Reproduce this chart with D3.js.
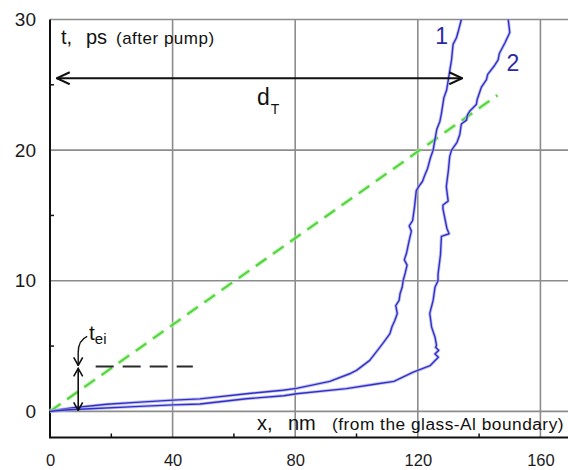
<!DOCTYPE html>
<html>
<head>
<meta charset="utf-8">
<script src="https://cdn.jsdelivr.net/npm/d3@7"></script>
<style>
  html, body { margin: 0; padding: 0; background: #fff; }
  svg { display: block; font-family: "Liberation Sans", Arial, sans-serif; }
</style>
</head>
<body>
<svg id="chart" width="568" height="470"></svg>
<script>
// ---------------- data ----------------
const xTicks = [0, 40, 80, 120, 160];
const yTicks = [0, 10, 20, 30];
const xMinorTicks = [20, 60, 100, 140];
const yMinorTicks = [5, 15, 25];

// curve 1: x (nm), t (ps)
const curve1X = [0, 3, 7.6, 18.5, 29.3, 40.2, 48.9, 64.1, 76, 80.4, 91.3, 98, 100, 104.3, 107.6, 109.2, 110.9, 111.6, 112.5, 113.3, 112.8, 113.9, 114.2, 114.9, 115.2, 115.9, 116.5, 115.6, 116.3, 117.1, 117.9, 117.2, 118.3, 118.9, 119.5, 120.3, 121.5, 122.3, 123.2, 124.1, 125, 125.6, 126.2, 127.2, 127.7, 128.5, 129.4, 129.9, 130.5, 131, 131.5, 132.6, 133.1, 134.2];
const curve1T = [0, 0.12, 0.28, 0.54, 0.71, 0.86, 0.96, 1.35, 1.62, 1.76, 2.3, 2.9, 3.14, 3.9, 4.9, 5.4, 5.95, 6.5, 6.96, 7.5, 8.1, 8.5, 9.0, 9.5, 10.0, 10.6, 11.2, 11.6, 12.1, 13.0, 13.8, 14.2, 14.6, 15.6, 16.9, 17.2, 17.6, 18.1, 18.6, 19.4, 20.0, 20.8, 21.6, 22.2, 22.8, 24.0, 24.6, 25.3, 26.2, 26.9, 28.1, 28.6, 29.0, 30];

// curve 2: x (nm), t (ps)
const curve2X = [0, 5, 13, 29.3, 40.2, 48.9, 64.1, 76.3, 80.4, 96.7, 106.5, 112.2, 118.5, 124, 126.7, 125.6, 126.8, 125.8, 126.1, 125.6, 124.5, 123.9, 125, 125.6, 126.6, 126.6, 127.4, 127.7, 130.2, 129.5, 128.2, 128.2, 129.9, 129.3, 130, 130.4, 131, 132.8, 133.7, 134.2, 135.9, 136.2, 137, 139.1, 139.4, 140.7, 142.4, 142.8, 145.1, 146.2, 146.6, 148.4, 150, 149.5];
const curve2T = [0, 0.1, 0.2, 0.38, 0.5, 0.56, 0.97, 1.2, 1.35, 1.74, 2.1, 2.3, 3.0, 3.5, 4.15, 4.4, 4.67, 4.9, 5.05, 5.7, 6.45, 7.5, 8.5, 9.5, 10.0, 10.5, 12.0, 13.4, 13.6, 14.0, 15.5, 15.8, 16.1, 17.2, 18.5, 19.5, 20.0, 20.6, 21.2, 22.0, 22.3, 22.7, 23.0, 23.5, 23.9, 24.8, 25.4, 25.8, 26.5, 26.9, 27.4, 28.2, 29.0, 30];

// green dashed guide line (x nm, t ps)
const guideX = [0, 146];
const guideT = [0, 24.2];

// annotations
const dT = { x0: 2.2, x1: 134.5, t: 25.5 };
const tei = { x: 9.2, t: 3.44, dashX0: 14.9, dashX1: 46.6 };

// ---------------- layout ----------------
const svg = d3.select("#chart");
const x = d3.scaleLinear().domain([0, 169]).range([50, 568]);
const y = d3.scaleLinear().domain([-2, 30]).range([437.5, 19.5]);

svg.append("rect").attr("width", 568).attr("height", 470).attr("fill", "#fff");

const defs = svg.append("defs");
function chevron(id, len, half, w) {
  defs.append("marker")
    .attr("id", id)
    .attr("viewBox", `0 0 ${len + 2} ${2 * half + 2}`)
    .attr("refX", len + 1).attr("refY", half + 1)
    .attr("markerWidth", len + 2).attr("markerHeight", 2 * half + 2)
    .attr("markerUnits", "userSpaceOnUse")
    .attr("orient", "auto-start-reverse")
    .append("path")
    .attr("d", `M1,1 L${len + 1},${half + 1} L1,${2 * half + 1}`)
    .attr("fill", "none").attr("stroke", "#111").attr("stroke-width", w)
    .attr("stroke-linejoin", "miter");
}
chevron("bigArrow", 13, 6, 2);
chevron("smallArrow", 8, 4.5, 1.6);

// grid
const grid = svg.append("g").attr("stroke", "#8c8c8c").attr("stroke-width", 1.6);
grid.selectAll(".vg").data(xTicks.filter(d => d > 0)).enter().append("line")
  .attr("x1", d => x(d)).attr("x2", d => x(d))
  .attr("y1", y(30)).attr("y2", y(-2));
grid.selectAll(".hg").data(yTicks).enter().append("line")
  .attr("x1", x(0)).attr("x2", x(169))
  .attr("y1", d => y(d)).attr("y2", d => y(d));

// axes lines
svg.append("line").attr("x1", x(0)).attr("x2", x(0)).attr("y1", y(30)).attr("y2", y(-2))
  .attr("stroke", "#111").attr("stroke-width", 2);
svg.append("line").attr("x1", x(0) - 1).attr("x2", x(169)).attr("y1", y(-2)).attr("y2", y(-2))
  .attr("stroke", "#111").attr("stroke-width", 2);

// minor ticks
svg.selectAll(".ym").data(yMinorTicks).enter().append("line")
  .attr("x1", x(0)).attr("x2", x(0) + 4)
  .attr("y1", d => y(d)).attr("y2", d => y(d))
  .attr("stroke", "#111").attr("stroke-width", 1.5);
svg.selectAll(".xm").data(xMinorTicks).enter().append("line")
  .attr("x1", d => x(d)).attr("x2", d => x(d))
  .attr("y1", y(-2)).attr("y2", y(-2) - 4)
  .attr("stroke", "#111").attr("stroke-width", 1.5);

// tick labels via d3 axes
const yAxis = svg.append("g").attr("transform", `translate(${x(0)},0)`)
  .call(d3.axisLeft(y).tickValues(yTicks).tickSize(0).tickPadding(14).tickFormat(d3.format("d")));
yAxis.select(".domain").remove();
yAxis.selectAll("text").attr("font-size", 19).attr("fill", "#1a1a1a")
  .attr("font-family", "Liberation Sans, Arial, sans-serif");

const xAxis = svg.append("g").attr("transform", `translate(0,${y(-2)})`)
  .call(d3.axisBottom(x).tickValues(xTicks).tickSize(0).tickPadding(16.5).tickFormat(d3.format("d")));
xAxis.select(".domain").remove();
xAxis.selectAll("text").attr("font-size", 16.5).attr("fill", "#1a1a1a")
  .attr("font-family", "Liberation Sans, Arial, sans-serif");

// axis titles
const yt = svg.append("text").attr("y", 44).attr("fill", "#111");
yt.append("tspan").attr("x", 61).attr("font-size", 20).text("t,");
yt.append("tspan").attr("x", 86).attr("font-size", 20).text("ps");
yt.append("tspan").attr("x", 116).attr("font-size", 17).attr("letter-spacing", 0.5).text("(after pump)");

const xt = svg.append("text").attr("y", 430).attr("fill", "#111");
xt.append("tspan").attr("x", 257).attr("font-size", 20).text("x,");
xt.append("tspan").attr("x", 288).attr("font-size", 20).text("nm");
xt.append("tspan").attr("x", 332).attr("font-size", 17.3).attr("letter-spacing", 0.5).text("(from the glass-Al boundary)");

// green dashed guide
const guideData = guideX.map((d, i) => [d, guideT[i]]);
const line = d3.line().x(d => x(d[0])).y(d => y(d[1]));
svg.append("path").datum(guideData).attr("d", line)
  .attr("fill", "none").attr("stroke", "#b8f0a8").attr("stroke-width", 4.5)
  .attr("stroke-dasharray", "13,8").attr("opacity", 0.6);
svg.append("path").datum(guideData).attr("d", line)
  .attr("fill", "none").attr("stroke", "#55d640").attr("stroke-width", 2.2)
  .attr("stroke-dasharray", "13,8");

// blue curves
function drawCurve(xs, ts) {
  const data = xs.map((d, i) => [d, ts[i]]);
  svg.append("path").datum(data).attr("d", line)
    .attr("fill", "none").attr("stroke", "#a8a8f0").attr("stroke-width", 3.2)
    .attr("stroke-linejoin", "round").attr("opacity", 0.7);
  svg.append("path").datum(data).attr("d", line)
    .attr("fill", "none").attr("stroke", "#3030c4").attr("stroke-width", 1.4)
    .attr("stroke-linejoin", "round");
}
drawCurve(curve1X, curve1T);
drawCurve(curve2X, curve2T);

// curve labels
svg.append("text").attr("x", x(127.8)).attr("y", 43.5).attr("text-anchor", "middle")
  .attr("font-size", 23).attr("fill", "#2a2aa8").text("1");
svg.append("text").attr("x", x(151)).attr("y", 70.5).attr("text-anchor", "middle")
  .attr("font-size", 23).attr("fill", "#2a2aa8").text("2");

// d_T double arrow
svg.append("line")
  .attr("x1", x(dT.x0)).attr("x2", x(dT.x1)).attr("y1", y(dT.t)).attr("y2", y(dT.t))
  .attr("stroke", "#111").attr("stroke-width", 2)
  .attr("marker-start", "url(#bigArrow)").attr("marker-end", "url(#bigArrow)");
const dl = svg.append("text").attr("x", 257).attr("y", 105).attr("fill", "#111");
dl.append("tspan").attr("font-size", 23).text("d");
dl.append("tspan").attr("font-size", 14).attr("dy", 9).attr("dx", 1).text("T");

// t_ei annotation: black dashed level
svg.append("line")
  .attr("x1", x(tei.dashX0)).attr("x2", x(tei.dashX1)).attr("y1", y(tei.t)).attr("y2", y(tei.t))
  .attr("stroke", "#2a2a2a").attr("stroke-width", 2).attr("stroke-dasharray", "18,9");
// vertical double arrow
svg.append("line")
  .attr("x1", x(tei.x)).attr("x2", x(tei.x)).attr("y1", y(tei.t) + 2).attr("y2", y(0) - 1)
  .attr("stroke", "#111").attr("stroke-width", 1.6)
  .attr("marker-start", "url(#smallArrow)").attr("marker-end", "url(#smallArrow)");
// leader from label
svg.append("path")
  .attr("d", `M${x(tei.x) + 9},${y(tei.t) - 30} Q${x(tei.x)},${y(tei.t) - 26} ${x(tei.x)},${y(tei.t) - 14} L${x(tei.x)},${y(tei.t) - 1}`)
  .attr("fill", "none").attr("stroke", "#111").attr("stroke-width", 1.4)
  .attr("marker-end", "url(#smallArrow)");
const tl = svg.append("text").attr("x", 89).attr("y", 340).attr("fill", "#111");
tl.append("tspan").attr("font-size", 21).text("t");
tl.append("tspan").attr("font-size", 15).attr("dy", 4).attr("dx", 0).text("ei");
</script>
</body>
</html>
